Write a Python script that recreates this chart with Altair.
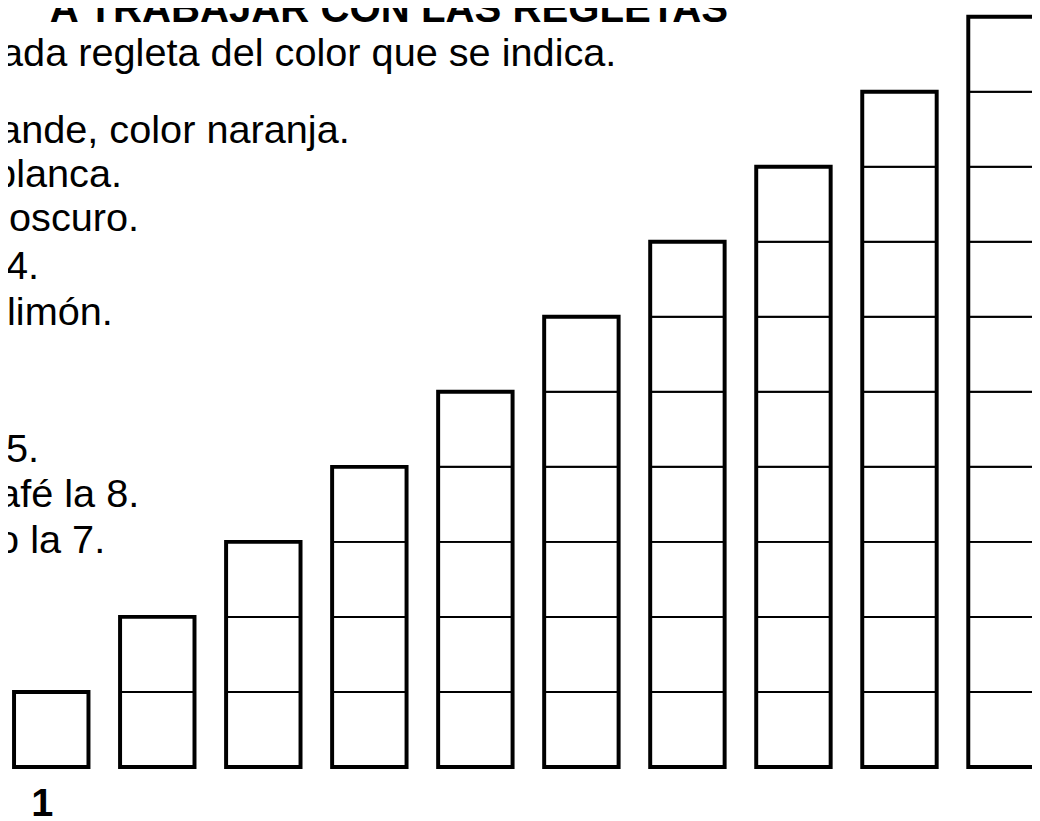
import altair as alt
import pandas as pd

# ---- data ----
regletas = [1, 2, 3, 4, 5, 6, 7, 8, 9, 10]          # length (in unit squares) of each rod
title_text = "A TRABAJAR CON LAS REGLETAS"
body_lines = [
    "ada regleta del color que se indica.",
    "ande, color naranja.",
    "blanca.",
    "oscuro.",
    "4.",
    "limón.",
    "5.",
    "afé la 8.",
    "o la 7.",
]
first_label = "1"

# ---- layout (pixels, chart coordinates) ----
W, H = 1032, 813
line_x = [-7, -9, -14, 1, -2, -1, -2, -10, -11]
line_y = [55, 133, 177, 222, 270, 316, 454, 500, 546]
FONT = "Liberation Sans"

units = pd.DataFrame(
    [{"regleta": n, "k0": k - 1, "k1": k} for n in regletas for k in range(1, n + 1)]
)
rods = pd.DataFrame({"regleta": regletas, "base": [0] * len(regletas), "top": regletas})
texts = pd.DataFrame({"t": body_lines, "px": line_x, "py": line_y})

xs = alt.Scale(domain=[0.592, 10.25], nice=False, zero=False)
ys = alt.Scale(domain=[-0.679, 10.075], nice=False, zero=False)
HALF = 0.351

unit_layer = (
    alt.Chart(units)
    .transform_calculate(xa=f"datum.regleta - {HALF}", xb=f"datum.regleta + {HALF}")
    .mark_rect(fill="white", stroke="black", strokeWidth=2, clip=True)
    .encode(
        x=alt.X("xa:Q", scale=xs, axis=None),
        x2="xb:Q",
        y=alt.Y("k0:Q", scale=ys, axis=None),
        y2="k1:Q",
    )
)

rod_layer = (
    alt.Chart(rods)
    .transform_calculate(xa=f"datum.regleta - {HALF}", xb=f"datum.regleta + {HALF}")
    .mark_rect(filled=False, stroke="black", strokeWidth=4, clip=True)
    .encode(
        x=alt.X("xa:Q", scale=xs, axis=None),
        x2="xb:Q",
        y=alt.Y("base:Q", scale=ys, axis=None),
        y2="top:Q",
    )
)

label_layer = (
    alt.Chart(pd.DataFrame({"regleta": [regletas[0]], "t": [first_label]}))
    .mark_text(font=FONT, fontSize=40, fontWeight="bold", color="black",
               align="center", baseline="alphabetic", dx=-9)
    .encode(
        x=alt.X("regleta:Q", scale=xs, axis=None),
        y=alt.value(811),
        text="t:N",
    )
)

body_layer = (
    alt.Chart(texts)
    .mark_text(font=FONT, fontSize=40, color="black", align="left", baseline="alphabetic")
    .encode(
        x=alt.X("px:Q", scale=None),
        y=alt.Y("py:Q", scale=None),
        text="t:N",
    )
)

title_layer = (
    alt.Chart(pd.DataFrame({"t": [title_text]}))
    .mark_text(font=FONT, fontSize=40.5, fontWeight="bold", color="black",
               align="left", baseline="alphabetic")
    .encode(x=alt.value(42), y=alt.value(11), text="t:N")
)

chart = (
    alt.layer(unit_layer, rod_layer, label_layer, body_layer, title_layer)
    .properties(width=W, height=H, autosize=alt.AutoSizeParams(type="none"),
                padding=0, background="white")
    .configure_view(stroke="transparent", strokeWidth=0)
)

chart.save("out.html", embed_options={"renderer": "svg", "actions": False})
